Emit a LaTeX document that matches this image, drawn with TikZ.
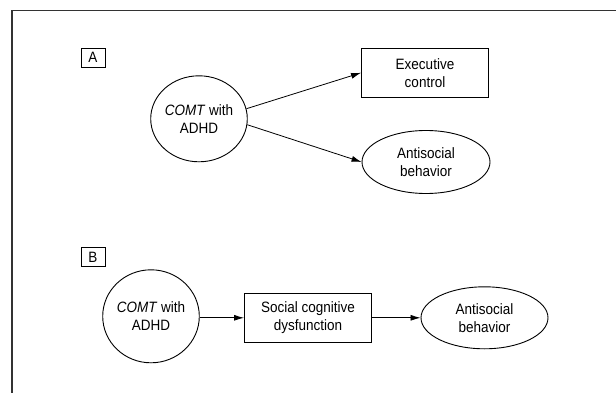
\documentclass[tikz,border=0pt]{standalone}
\usepackage{fontspec}
\setmainfont[FakeStretch=0.9]{Liberation Sans}
\usetikzlibrary{shapes.geometric}
\usetikzlibrary{arrows.meta}

\tikzset{
 txt/.style={align=center, inner sep=0pt, font=\fontsize{15}{18.3}\selectfont},
 tag/.style={draw, line width=0.8pt, minimum width=24pt, minimum height=19pt, inner sep=0pt, font=\fontsize{15}{18.3}\selectfont},
 boxnode/.style={txt, draw, line width=0.9pt, minimum width=127pt, minimum height=49pt},
 ovalnode/.style={txt, draw, ellipse, line width=0.9pt},
 link/.style={line width=0.8pt, -{Latex[length=10pt,width=6pt]}}
}

\begin{document}
\begin{tikzpicture}[x=1pt, y=-1pt]
\useasboundingbox (0,0) rectangle (616,393);
% frame
\draw[line width=1.5pt, black!80] (616,10.5) -- (12,10.5) -- (12,393);

% panel A
\node[tag] (tagA) at (93,57.8) {A};
\node[ovalnode, minimum width=89pt, minimum height=86pt] (comtA) at (199,118.8) {\textit{COMT} with\\ADHD};
\node[boxnode] (exec) at (425,72.8) {Executive\\control};
\node[ovalnode, minimum width=128pt, minimum height=63pt] (antiA) at (426,162) {Antisocial\\behavior};
\draw[link] (comtA.12) -- (exec.west);
\draw[link] (comtA.-7) -- (antiA.west);

% panel B
\node[tag] (tagB) at (93,257.2) {B};
\node[ovalnode, minimum width=88pt, minimum height=93pt] (comtB) at (151,316.3) {\textit{COMT} with\\ADHD};
\node[boxnode] (social) at (308,317.8) {Social cognitive\\dysfunction};
\node[ovalnode, minimum width=127pt, minimum height=62pt] (antiB) at (484.5,317.8) {Antisocial\\behavior};
\draw[link] (comtB.east |- social.west) -- (social.west);
\draw[link] (social.east) -- (antiB.west);
\end{tikzpicture}
\end{document}
